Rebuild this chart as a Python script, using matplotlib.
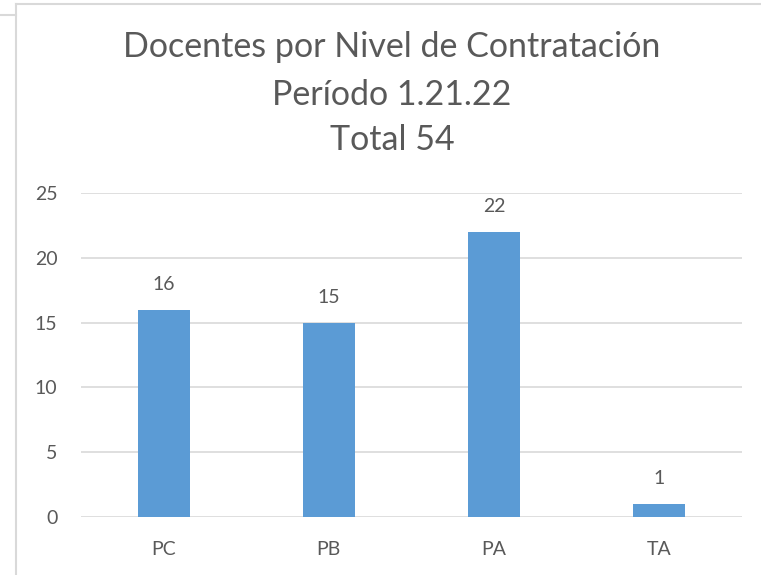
import matplotlib

matplotlib.use("Agg")
import matplotlib.pyplot as plt
from matplotlib.lines import Line2D

categories = ["PC", "PB", "PA", "TA"]
docentes = [16, 15, 22, 1]
yticks = [0, 5, 10, 15, 20, 25]
title_lines = ["Docentes por Nivel de Contratación", "Período 1.21.22", "Total 54"]

BAR = "#5b9bd5"
TEXT = "#595959"
GRID = "#d9d9d9"
FRAME = "#d9d9d9"

plt.rcParams["font.family"] = ["Lato", "DejaVu Sans"]

W, H = 761, 575
fig = plt.figure(figsize=(W / 100, H / 100), dpi=100)

# chart frame (screenshot crop: left and top edges visible)
fig.add_artist(Line2D([16 / W, 16 / W], [0, 1 - 4 / H], transform=fig.transFigure,
                      color=FRAME, linewidth=1.5))
fig.add_artist(Line2D([16 / W, 1], [1 - 4 / H, 1 - 4 / H], transform=fig.transFigure,
                      color=FRAME, linewidth=1.5))
fig.add_artist(Line2D([0, 16 / W], [1 - 15 / H, 1 - 15 / H], transform=fig.transFigure,
                      color=FRAME, linewidth=1.5))

ax = fig.add_axes([81 / W, 1 - 517 / H, (742 - 81) / W, (517 - 193) / H])
x = range(len(categories))
bars = ax.bar(x, docentes, width=0.315, color=BAR, zorder=3)
for b, v in zip(bars, docentes):
    ax.annotate(str(v), (b.get_x() + b.get_width() / 2, v), textcoords="offset points",
                xytext=(0, 12), ha="center", va="bottom", fontsize=14, color=TEXT)

ax.set_xlim(-0.5, len(categories) - 0.5)
ax.set_ylim(0, 25)
ax.set_yticks(yticks)
ax.set_xticks(list(x))
ax.set_xticklabels(categories)
ax.tick_params(length=0, labelsize=14, colors=TEXT)
ax.tick_params(axis="y", pad=17)
ax.tick_params(axis="x", pad=17)
ax.grid(axis="y", color=GRID, linewidth=1.2, zorder=0)
for s in ax.spines.values():
    s.set_visible(False)

for line, y in zip(title_lines, [47, 95, 140]):
    fig.text(392 / W, 1 - y / H, line, ha="center", va="center", fontsize=24.5, color=TEXT)

fig.savefig("out.png", dpi=100)
